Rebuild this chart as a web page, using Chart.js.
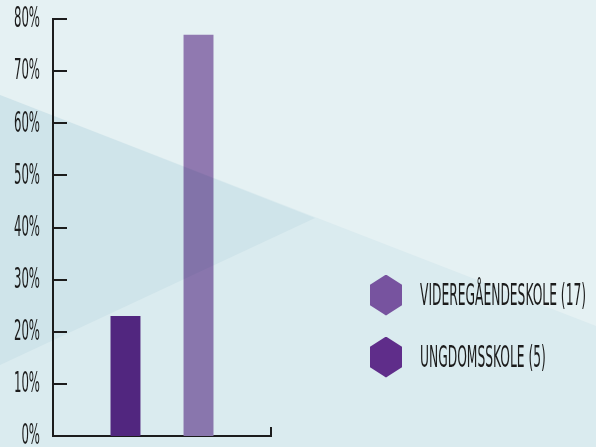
<!DOCTYPE html>
<html>
<head>
<meta charset="utf-8">
<script src="https://cdn.jsdelivr.net/npm/chart.js@4.4.1/dist/chart.umd.min.js"></script>
<style>
  html, body { margin: 0; padding: 0; }
  body { width: 596px; height: 447px; background: #e5f1f3; position: relative; overflow: hidden; }
  #chart { position: absolute; left: 0; top: 0; }
  .legend { position: absolute; left: 370px; top: 0; }
  .legend-row { position: absolute; left: 0; height: 42px; display: flex; align-items: center; white-space: nowrap; }
  .hex { width: 32px; height: 41px; clip-path: polygon(50% 0, 100% 25%, 100% 75%, 50% 100%, 0 75%, 0 25%); flex: none; }
  .legend-text {
    display: inline-block; margin-left: 18px;
    font: 30px/30px "DejaVu Sans Condensed", "Liberation Sans Narrow", sans-serif;
    color: #1c1c1c; text-transform: uppercase;
    transform: scaleX(0.455); transform-origin: left center;
  }
</style>
</head>
<body>
<canvas id="chart" width="596" height="447"></canvas>
<div class="legend" id="legend"></div>
<script>
// school levels, pupil counts and their share in percent
const levels = ['Ungdomsskole', 'Videregåendeskole'];
const pupilCounts = [5, 17];
const shares = [23, 77];
const yTickValues = [0, 10, 20, 30, 40, 50, 60, 70, 80];

const barColors = ['#552781', '#9079b0'];
const legendColors = ['#5f2d8a', '#77539f'];
const inkColor = '#1c1c1c';
const labelFont = '28px "DejaVu Sans Condensed", "Liberation Sans Narrow", sans-serif';

// page tint plus two diagonal bands multiplied over the plot
const bandsPlugin = {
  id: 'bands',
  beforeDraw(chart) {
    const ctx = chart.ctx;
    ctx.save();
    ctx.fillStyle = '#e5f1f3';
    ctx.fillRect(0, 0, chart.width, chart.height);
    ctx.restore();
  },
  afterDatasetsDraw(chart) {
    const ctx = chart.ctx;
    const w = chart.width, h = chart.height;
    ctx.save();
    ctx.globalCompositeOperation = 'multiply';
    ctx.fillStyle = 'rgb(243,249,251)';
    ctx.beginPath();
    ctx.moveTo(0, 95);
    ctx.lineTo(w, 326);
    ctx.lineTo(w, h);
    ctx.lineTo(0, h);
    ctx.closePath();
    ctx.fill();
    ctx.fillStyle = 'rgb(242,248,250)';
    ctx.beginPath();
    ctx.moveTo(0, 95);
    ctx.lineTo(315, 218);
    ctx.lineTo(0, 365);
    ctx.closePath();
    ctx.fill();
    ctx.restore();
  }
};

// inward tick marks and narrow percent labels
const axisPlugin = {
  id: 'axisMarks',
  afterDraw(chart) {
    const { ctx, chartArea, scales } = chart;
    const y = scales.y;
    ctx.save();
    ctx.strokeStyle = inkColor;
    ctx.lineWidth = 2;
    y.ticks.forEach(t => {
      const py = Math.round(y.getPixelForValue(t.value));
      ctx.beginPath();
      ctx.moveTo(chartArea.left, py);
      ctx.lineTo(chartArea.left + 14, py);
      ctx.stroke();
    });
    ctx.beginPath();
    ctx.moveTo(chartArea.right, chartArea.bottom);
    ctx.lineTo(chartArea.right, chartArea.bottom - 9);
    ctx.stroke();

    ctx.fillStyle = inkColor;
    ctx.font = labelFont;
    ctx.textAlign = 'right';
    ctx.textBaseline = 'middle';
    y.ticks.forEach(t => {
      const py = y.getPixelForValue(t.value);
      ctx.save();
      ctx.translate(40, py + 1);
      ctx.scale(0.465, 1);
      ctx.fillText(t.label, 0, 0);
      ctx.restore();
    });
    ctx.restore();
  }
};

new Chart(document.getElementById('chart'), {
  type: 'bar',
  data: {
    labels: [''],
    datasets: levels.map((name, i) => ({
      label: name + ' (' + pupilCounts[i] + ')',
      data: [shares[i]],
      backgroundColor: barColors[i],
      borderWidth: 0,
      barPercentage: 0.41,
      categoryPercentage: 0.67
    }))
  },
  options: {
    responsive: false,
    animation: false,
    devicePixelRatio: 1,
    layout: { padding: { top: 19, right: 325, bottom: 11, left: 0 } },
    plugins: { legend: { display: false }, tooltip: { enabled: false } },
    scales: {
      x: {
        grid: { display: false },
        ticks: { display: false },
        border: { display: true, color: inkColor, width: 2 },
        afterFit: s => { s.height = 0; }
      },
      y: {
        min: 0,
        max: 80,
        afterBuildTicks: s => { s.ticks = yTickValues.map(v => ({ value: v })); },
        ticks: { display: false, callback: v => v + '%' },
        grid: { display: false },
        border: { display: true, color: inkColor, width: 2 },
        afterFit: s => { s.width = 53; }
      }
    }
  },
  plugins: [bandsPlugin, axisPlugin]
});

// legend, listed with the upper school first
const legend = document.getElementById('legend');
const rowCenters = [295, 357];
[1, 0].forEach((i, row) => {
  const el = document.createElement('div');
  el.className = 'legend-row';
  el.style.top = (rowCenters[row] - 21) + 'px';
  const hex = document.createElement('div');
  hex.className = 'hex';
  hex.style.background = legendColors[i];
  const txt = document.createElement('span');
  txt.className = 'legend-text';
  txt.textContent = levels[i] + ' (' + pupilCounts[i] + ')';
  el.appendChild(hex);
  el.appendChild(txt);
  legend.appendChild(el);
});
</script>
</body>
</html>
